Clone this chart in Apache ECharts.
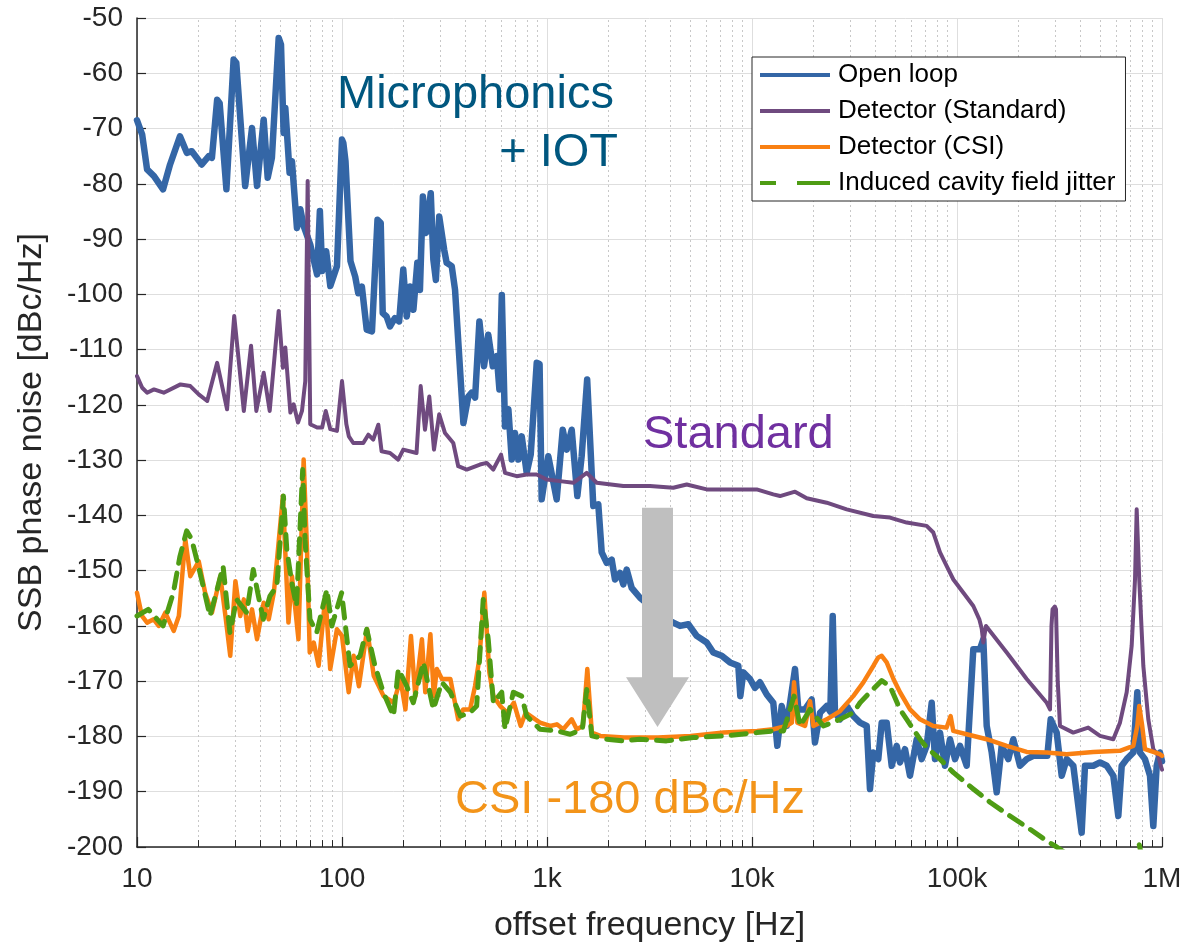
<!DOCTYPE html>
<html>
<head>
<meta charset="utf-8">
<script src="https://cdn.jsdelivr.net/npm/echarts@6/dist/echarts.min.js"></script>
<style>
  html, body { margin: 0; padding: 0; background: #ffffff; }
  #chart { width: 1185px; height: 948px; }
</style>
</head>
<body>
<div id="chart"></div>
<script>
// ---- Data: SSB phase noise spectra, offset frequency in Hz, level in dBc/Hz ----
const xTickLabels = ['10', '100', '1k', '10k', '100k', '1M'];

const openLoopHz = [10, 10.6, 11.2, 12.1, 13.4, 14.5, 16.2, 17.5, 18.5, 20.7, 22.4, 23.2, 24.6, 25.3, 27.3, 29.6, 30.5, 33.7, 36.4, 38.5, 41.5, 43.4, 45.5, 49.1, 50.4, 51.9, 52.9, 55.5, 57, 60.3, 62.6, 65, 70, 75.6, 78, 80, 83.7, 87.7, 94.5, 100, 101.5, 104, 110, 116, 120, 125, 132, 140, 149, 154.5, 158, 165, 171.5, 181, 190, 199, 207, 215, 223, 233, 240, 248, 257, 271, 279, 287, 298, 315, 324, 343, 356, 391, 413, 429, 446, 468, 493, 517, 544, 569, 586, 602, 624, 648, 673, 698, 725, 753, 796, 833, 891, 920, 942, 1015, 1115, 1193, 1248, 1320, 1406, 1476, 1570, 1682, 1779, 1849, 1956, 2068, 2146, 2270, 2356, 2448, 2588, 2843, 3200, 3700, 4131, 4455, 4890, 5373, 6012, 6474, 7116, 7810, 8576, 8770, 9070, 9775, 10340, 10940, 11800, 12700, 13290, 13960, 14770, 16210, 16820, 18140, 19550, 20280, 21470, 23140, 24100, 24760, 25400, 26880, 28970, 31200, 33640, 36270, 37630, 39050, 41300, 42930, 45400, 48030, 50800, 52720, 55760, 58980, 63600, 67260, 71120, 75260, 78100, 82600, 87400, 92430, 97800, 103400, 111500, 120100, 129400, 134400, 139600, 147700, 156200, 165200, 177900, 188200, 202900, 218800, 235600, 258900, 275800, 286400, 306400, 324100, 342800, 369300, 405600, 421000, 462400, 498500, 537400, 578700, 612200, 636000, 672600, 724600, 757800, 781000, 826000, 874000, 907000, 942000, 977000, 1000000];
const openLoopDb = [-68.5, -71.1, -77.4, -78.6, -81.0, -76.5, -71.4, -74.4, -74.1, -76.5, -75.0, -75.3, -64.8, -65.4, -81.0, -57.5, -58.1, -80.4, -69.9, -80.4, -68.4, -78.9, -75.3, -53.6, -54.8, -70.8, -66.3, -78.0, -75.9, -88.0, -84.6, -87.6, -91.0, -96.4, -84.9, -95.8, -92.2, -98.5, -94.9, -72.0, -72.6, -75.9, -94.0, -96.8, -99.8, -98.6, -106.4, -106.7, -86.5, -87.1, -103.4, -104.0, -105.8, -104.3, -104.9, -95.5, -104.0, -98.6, -102.8, -94.3, -99.2, -82.3, -88.9, -81.7, -93.7, -97.4, -85.9, -91.9, -94.3, -94.9, -99.2, -123.3, -118.5, -117.8, -118.7, -104.9, -113.0, -107.3, -113.0, -111.2, -117.2, -100.1, -123.9, -120.8, -129.9, -125.1, -129.9, -125.7, -132.3, -129.0, -112.4, -112.6, -137.1, -129.3, -137.1, -124.5, -128.1, -124.5, -136.5, -129.3, -115.4, -138.3, -138.0, -146.7, -148.6, -148.0, -151.6, -150.4, -152.5, -149.8, -153.1, -154.9, -156.5, -158.5, -159.4, -160.0, -159.7, -161.8, -163.0, -164.8, -165.4, -166.6, -167.2, -172.7, -168.4, -169.6, -171.2, -170.2, -172.4, -173.9, -181.7, -174.5, -178.1, -167.8, -175.1, -175.1, -173.3, -181.1, -175.7, -174.5, -175.5, -158.2, -175.7, -176.9, -174.5, -176.3, -177.5, -178.1, -189.5, -182.9, -184.1, -177.5, -177.5, -185.3, -181.7, -184.7, -182.3, -187.1, -180.5, -184.1, -181.7, -173.9, -184.1, -179.3, -185.3, -180.5, -184.1, -181.7, -185.3, -164.2, -164.2, -162.4, -178.1, -182.9, -190.1, -181.7, -184.1, -180.5, -185.3, -184.1, -183.5, -183.5, -183.5, -176.9, -179.3, -187.1, -184.1, -185.3, -197.4, -185.3, -185.3, -184.7, -185.3, -187.1, -194.4, -185.3, -184.1, -182.9, -172.0, -182.9, -184.1, -187.1, -196.2, -185.3, -182.9, -184.5];

const standardHz = [10, 10.6, 11.2, 12.1, 13.5, 16.3, 18.2, 20, 22, 24.6, 27.5, 29.8, 33.2, 36, 38.2, 41.5, 44.4, 49.1, 51.5, 52.9, 56, 58.1, 61, 63.8, 66.2, 68, 70, 75.6, 80, 83.3, 87.7, 94.5, 100, 105, 108, 113.5, 127, 134.4, 142, 150.4, 156, 171.5, 188, 199, 231, 242, 254, 266.6, 281, 298, 318, 349, 369, 406, 471, 508, 547, 597, 624, 711, 796, 891, 996, 1156, 1343, 1562, 1748, 2356, 3177, 4131, 4800, 6012, 7527, 10540, 12700, 13700, 16210, 18490, 23140, 28970, 39060, 47100, 56840, 71120, 76640, 82620, 89100, 96000, 107400, 120100, 128500, 132000, 134400, 138500, 174800, 218800, 274000, 284300, 289000, 292500, 300000, 304000, 310000, 317900, 369000, 436500, 498500, 578600, 623700, 672600, 711300, 738500, 752500, 774500, 810700, 857500, 907000, 959000, 985600, 1000000];
const standardDb = [-114.8, -116.9, -117.8, -117.2, -117.8, -116.3, -116.6, -118.1, -119.3, -112.4, -120.8, -103.9, -121.1, -109.3, -121.1, -114.2, -121.1, -103.0, -113.3, -109.6, -121.4, -119.9, -123.2, -121.1, -115.7, -79.5, -123.5, -124.1, -124.1, -121.1, -124.4, -124.7, -115.7, -123.5, -125.7, -126.9, -126.9, -125.4, -126.3, -123.6, -128.4, -128.7, -129.9, -128.1, -128.7, -116.6, -124.5, -118.5, -128.1, -121.7, -125.1, -126.9, -131.1, -131.7, -130.8, -130.5, -131.7, -129.0, -132.3, -132.9, -132.6, -132.6, -133.5, -133.8, -134.1, -132.3, -134.1, -134.7, -134.7, -135.0, -134.4, -135.3, -135.3, -135.3, -136.2, -136.5, -135.7, -136.9, -137.7, -138.9, -140.1, -140.4, -141.3, -141.9, -143.1, -146.7, -149.2, -151.6, -154.0, -156.4, -158.8, -160.5, -163.0, -160.0, -164.8, -169.6, -173.9, -175.1, -160.0, -157.0, -156.5, -157.0, -170.0, -178.1, -179.3, -178.4, -179.9, -180.5, -177.5, -172.0, -163.6, -151.6, -138.9, -151.6, -167.2, -176.9, -182.3, -183.5, -185.3, -186.0];

const csiHz = [10, 10.57, 11.2, 12.06, 12.76, 13.74, 15.1, 16, 17.2, 18.2, 20, 21.5, 23.2, 25.5, 27, 28.5, 30.2, 31.9, 33.2, 34.7, 36.4, 38.5, 41.5, 43.9, 46.5, 48.2, 51.5, 52.9, 54.8, 57, 61.3, 65, 67.5, 69.6, 72.8, 76.9, 83, 87.6, 94.5, 100, 107.8, 114, 120.9, 132.6, 142.8, 159.6, 178.8, 192.7, 203.9, 217, 227.8, 245.4, 254.9, 269.9, 280.5, 290.2, 307.3, 337.8, 368.9, 390.6, 421.6, 445.6, 467.6, 494.6, 523.5, 547.6, 591.5, 638.7, 689, 743.9, 787, 924, 1037, 1117, 1200, 1320, 1397, 1497, 1573, 1655, 1819, 2375, 3477, 5015, 7279, 10580, 12700, 14770, 15650, 16030, 16640, 18140, 19190, 19930, 23140, 26880, 31200, 34930, 39130, 41300, 42930, 45400, 48980, 52720, 58980, 65970, 76620, 88990, 93100, 95900, 111500, 139600, 174800, 218800, 274000, 342800, 462400, 623700, 724600, 757800, 774500, 800000, 826000, 977000, 1000000];
const csiDb = [-154.0, -158.2, -159.4, -158.8, -160.0, -157.6, -160.9, -158.2, -144.3, -151.0, -148.3, -154.0, -157.6, -151.0, -158.2, -165.4, -151.9, -158.2, -155.2, -160.9, -157.0, -162.4, -155.8, -158.8, -154.0, -148.0, -136.5, -146.7, -159.4, -151.0, -162.4, -129.9, -146.2, -164.8, -163.0, -167.2, -154.6, -167.8, -160.6, -161.8, -172.0, -165.4, -170.9, -160.6, -169.0, -172.7, -173.9, -169.6, -175.1, -161.8, -172.7, -162.4, -172.0, -161.5, -172.7, -167.8, -169.6, -169.6, -176.9, -175.1, -175.1, -170.9, -166.0, -154.0, -168.4, -172.7, -174.5, -175.7, -173.9, -178.1, -175.7, -177.5, -178.1, -177.8, -178.7, -176.9, -178.7, -178.1, -167.8, -179.3, -179.9, -180.2, -180.2, -179.9, -179.3, -179.0, -178.7, -178.1, -177.5, -170.2, -177.5, -178.1, -173.6, -178.1, -176.9, -175.4, -172.7, -170.2, -167.2, -165.7, -165.4, -166.6, -169.6, -172.0, -175.1, -176.9, -178.1, -178.4, -176.3, -179.0, -179.6, -180.5, -181.7, -182.8, -182.9, -183.2, -182.8, -182.6, -181.7, -178.1, -174.5, -178.0, -182.3, -183.2, -183.5];

const jitterHz = [10, 11.35, 13.4, 15.04, 16.2, 17.47, 18.47, 20.3, 22.7, 24.6, 26.3, 28.4, 30.6, 34.3, 36.9, 39.1, 41.3, 44.5, 48.1, 51.8, 53.8, 56.9, 60, 64.3, 66, 69.8, 75.3, 84.4, 89.2, 99.6, 109.4, 122.5, 132, 144.8, 159, 178.3, 188.3, 206.9, 222.8, 249.5, 279.1, 306.6, 337.8, 377.8, 421.6, 453.8, 488.5, 516.8, 547.6, 601.5, 623.8, 685, 752.5, 796, 924, 1117, 1298, 1487, 1562, 1655, 1956, 2356, 2843, 3826, 5168, 7279, 10580, 12700, 14240, 16030, 17170, 19190, 22290, 26880, 31200, 33640, 37630, 42930, 47100, 52720, 56840, 65970, 71120, 82620, 95900, 120100, 144900, 181500, 227500, 274000, 300700, 400000, 600000, 740000, 775000, 810000, 1000000];
const jitterDb = [-158.2, -157.0, -160.0, -154.0, -147.4, -142.8, -144.3, -150.4, -158.2, -153.4, -149.2, -161.2, -155.2, -157.6, -149.8, -154.6, -158.8, -154.6, -152.8, -136.5, -146.2, -152.2, -156.4, -131.7, -144.3, -158.8, -161.2, -153.4, -160.0, -154.0, -167.2, -165.4, -160.6, -167.2, -172.0, -176.3, -167.8, -170.9, -173.9, -166.6, -175.1, -170.2, -172.0, -176.3, -175.7, -174.5, -155.2, -162.4, -173.9, -172.0, -178.7, -172.0, -172.7, -176.3, -178.7, -179.0, -179.6, -178.7, -171.5, -179.9, -180.5, -180.8, -180.5, -180.8, -180.2, -179.9, -179.3, -179.0, -179.0, -172.7, -178.1, -175.1, -178.1, -176.9, -175.7, -173.9, -172.0, -169.9, -170.9, -175.1, -176.9, -180.5, -182.0, -184.1, -186.5, -189.5, -191.9, -194.4, -196.8, -198.9, -199.8, -203.0, -207.0, -202.0, -199.6, -203.0, -210.0];

// ---- Helpers ----
const FONT = '"Liberation Sans", Arial, Helvetica, sans-serif';
const zip = (xs, ys) => xs.map((x, i) => [x, ys[i]]);

// Minor log grid positions (2..9 within each decade)
const minorHz = [];
for (let d = 10; d < 1e6; d *= 10) {
  for (let m = 2; m <= 9; m++) minorHz.push(d * m);
}

// Legend keys: a solid bar, and a two-dash bar for the dashed series
const SOLID_KEY = 'path://M0,0H70V4H0Z';
const DASH_KEY = 'path://M0,0H16V4H0Z M37,0H70V4H37Z';

const chart = echarts.init(document.getElementById('chart'), null, { renderer: 'canvas' });

const lineSeries = (name, hz, db, color, width, type) => ({
  name: name, type: 'line', data: zip(hz, db),
  showSymbol: false, symbol: 'none', clip: true, z: 3,
  lineStyle: { color: color, width: width, type: type || 'solid', join: 'round', cap: 'round' },
  itemStyle: { color: color }
});

const option = {
  animation: false,
  backgroundColor: '#ffffff',
  grid: { left: 137, top: 18, width: 1025, height: 830, containLabel: false },
  xAxis: {
    type: 'log',
    logBase: 10,
    min: 10,
    max: 1e6,
    name: 'offset frequency [Hz]',
    nameLocation: 'middle',
    nameGap: 62,
    nameTextStyle: { fontFamily: FONT, fontSize: 34, color: '#262626' },
    axisLine: { show: true, onZero: false, lineStyle: { color: '#262626', width: 1.5 } },
    axisTick: { show: true, inside: true, length: 10, lineStyle: { color: '#262626', width: 1.2 } },
    axisLabel: {
      fontFamily: FONT, fontSize: 28, color: '#262626', margin: 18,
      formatter: v => xTickLabels[Math.round(Math.log10(v)) - 1] || ''
    },
    splitLine: { show: true, lineStyle: { color: '#dedede', width: 1 } }
  },
  yAxis: {
    type: 'value',
    min: -200,
    max: -50,
    interval: 10,
    name: 'SSB phase noise [dBc/Hz]',
    nameLocation: 'middle',
    nameGap: 88,
    nameTextStyle: { fontFamily: FONT, fontSize: 34, color: '#262626' },
    axisLine: { show: true, lineStyle: { color: '#262626', width: 1.5 } },
    axisTick: { show: true, inside: true, length: 9, lineStyle: { color: '#262626', width: 1.2 } },
    axisLabel: { fontFamily: FONT, fontSize: 28, color: '#262626', margin: 14 },
    splitLine: { show: true, lineStyle: { color: '#dedede', width: 1 } }
  },
  legend: {
    data: [
      { name: 'Open loop', icon: SOLID_KEY },
      { name: 'Detector (Standard)', icon: SOLID_KEY },
      { name: 'Detector (CSI)', icon: SOLID_KEY },
      { name: 'Induced cavity field jitter', icon: DASH_KEY }
    ],
    orient: 'vertical',
    left: 752,
    top: 57,
    padding: [5, 10, 5, 8],
    itemWidth: 70,
    itemHeight: 4,
    itemGap: 10,
    backgroundColor: '#ffffff',
    borderColor: '#262626',
    borderWidth: 1,
    borderRadius: 0,
    textStyle: { fontFamily: FONT, fontSize: 26, lineHeight: 26, color: '#000000', padding: [0, 0, 0, 3] }
  },
  series: [
    {
      // dotted minor grid lines of the log axis
      name: 'minorGrid', type: 'line', data: [], silent: true, z: 1,
      markLine: {
        z: 1, silent: true, symbol: 'none', animation: false,
        label: { show: false },
        lineStyle: { color: '#c8c8c8', width: 1, type: [2, 3] },
        data: minorHz.map(v => ({ xAxis: v }))
      }
    },
    {
      // minor tick marks along the bottom axis
      name: 'minorTicks', type: 'line', data: [], silent: true, z: 1,
      markLine: {
        z: 1, silent: true, symbol: 'none', animation: false,
        label: { show: false },
        lineStyle: { color: '#262626', width: 1, type: 'solid' },
        data: minorHz.map(v => [{ coord: [v, -200] }, { coord: [v, -198.75] }])
      }
    },
    lineSeries('Open loop', openLoopHz, openLoopDb, '#3466a6', 6.5),
    lineSeries('Detector (Standard)', standardHz, standardDb, '#6f4a7f', 4),
    lineSeries('Detector (CSI)', csiHz, csiDb, '#f98012', 4.5),
    lineSeries('Induced cavity field jitter', jitterHz, jitterDb, '#4e9c14', 5, [15, 10])
  ]
};

chart.setOption(option);

// ---- Annotations: gray arrow (placed in data space) and slide labels ----
const arrowHz = 3460;
const arrowTopDb = -138.6, arrowHeadDb = -169.3, arrowTipDb = -178.3;
const arrowTopPx = chart.convertToPixel({ gridIndex: 0 }, [arrowHz, arrowTopDb]);
const arrowHeadPx = chart.convertToPixel({ gridIndex: 0 }, [arrowHz, arrowHeadDb]);
const arrowTipPx = chart.convertToPixel({ gridIndex: 0 }, [arrowHz, arrowTipDb]);
const arrowCx = arrowTopPx[0], shaftHalf = 15.5, headHalf = 31.5;

const slideLabel = (text, x, y, color, align) => ({
  type: 'text', x: x, y: y, z: 20,
  style: { text: text, fill: color, font: '47px ' + FONT, textAlign: align, textVerticalAlign: 'middle' }
});

chart.setOption({
  graphic: [
    {
      type: 'polygon', z: 15,
      shape: {
        points: [
          [arrowCx - shaftHalf, arrowTopPx[1]], [arrowCx + shaftHalf, arrowTopPx[1]],
          [arrowCx + shaftHalf, arrowHeadPx[1]], [arrowCx + headHalf, arrowHeadPx[1]],
          [arrowCx, arrowTipPx[1]],
          [arrowCx - headHalf, arrowHeadPx[1]], [arrowCx - shaftHalf, arrowHeadPx[1]]
        ]
      },
      style: { fill: '#bfbfbf' }
    },
    slideLabel('Microphonics', 337, 95, '#00577f', 'left'),
    slideLabel('+ IOT', 618, 153, '#00577f', 'right'),
    slideLabel('Standard', 643, 435, '#7030a0', 'left'),
    slideLabel('CSI -180 dBc/Hz', 455, 800, '#f39419', 'left')
  ]
});
</script>
</body>
</html>
